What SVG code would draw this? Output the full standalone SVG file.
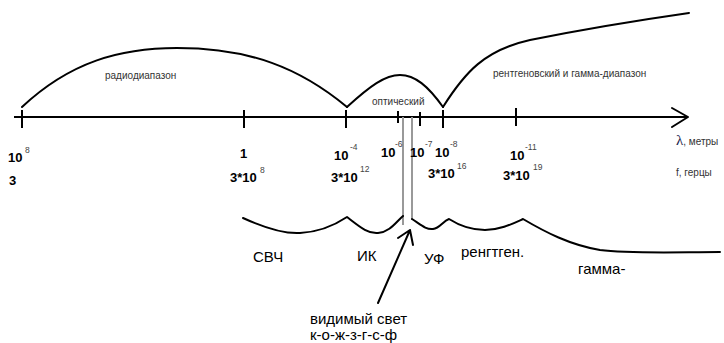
<svg xmlns="http://www.w3.org/2000/svg" width="724" height="343" viewBox="0 0 724 343">
<style>
.ln{fill:none;stroke:#000;stroke-width:2;stroke-linejoin:round;stroke-linecap:round}
.tk{stroke:#000;stroke-width:2}
.vis{stroke:#999;stroke-width:2}
.sm{font-family:"Liberation Sans",Arial,sans-serif;font-size:10px;fill:#333}
.b{font-family:"Liberation Sans",Arial,sans-serif;font-size:13px;font-weight:bold;fill:#000}
.sup{font-family:"Liberation Sans",Arial,sans-serif;font-size:8.5px;fill:#444}
.lb{font-family:"Liberation Sans",Arial,sans-serif;font-size:15px;fill:#000}
</style>
<rect width="724" height="343" fill="#fff"/>
<g id="connectors">
<path class="ln" d="M22,107 C70,62 120,48 177,48 C250,48 300,68 347,107"/>
<path class="ln" d="M347,107 C370,86 385,75 400,75 C415,75 428,86 443,107"/>
<path class="ln" d="M443,107 C465,72 485,50 530,40 C580,30 640,20 689,13"/>
<line class="tk" x1="14" y1="117" x2="688" y2="117"/>
<path class="ln" d="M672,108 L688,117 L672,127"/>
<line class="tk" x1="22" y1="110" x2="22" y2="128"/>
<line class="tk" x1="244" y1="110" x2="244" y2="128"/>
<line class="tk" x1="346" y1="110" x2="346" y2="128"/>
<line class="tk" x1="398" y1="111" x2="398" y2="123"/>
<line class="tk" x1="420" y1="112" x2="420" y2="126"/>
<line class="tk" x1="443" y1="110" x2="443" y2="128"/>
<line class="tk" x1="516" y1="108" x2="516" y2="126"/>
<line class="vis" x1="403" y1="117" x2="403" y2="225"/>
<line class="vis" x1="412" y1="117" x2="412" y2="220"/>
<path class="ln" d="M243,218 C265,228 285,234 300,233 C320,232 335,225 347,217 C360,227 368,234 378,233 C390,232 396,222 403,216"/>
<path class="ln" d="M412,219 C420,224 426,230 433,229 C440,228 443,221 449,219 C460,226 470,230 485,230 C500,230 512,224 523,219 C545,232 570,245 600,250 C630,254 680,252 720,252"/>
<path class="ln" d="M378,303 L410,230 M398,238 L410,230 L413,245" stroke-width="1.6"/>
</g>
<g id="band-labels">
<text class="sm" x="105" y="79">радиодиапазон</text>
<text class="sm" x="372" y="105">оптический</text>
<text class="sm" x="493" y="77">рентгеновский и гамма-диапазон</text>
</g>
<g id="tick-labels">
<text class="b" x="8" y="162">10</text><text class="sup" x="25" y="153">8</text>
<text class="b" x="9" y="185">3</text>
<text class="b" x="240" y="158">1</text>
<text class="b" x="230" y="182">3*10</text><text class="sup" x="260" y="173">8</text>
<text class="b" x="334" y="160">10</text><text class="sup" x="350" y="150">-4</text>
<text class="b" x="331" y="182">3*10</text><text class="sup" x="360" y="172">12</text>
<text class="b" x="381" y="157">10</text><text class="sup" x="395" y="147">-6</text>
<text class="b" x="410" y="157">10</text><text class="sup" x="425" y="147">-7</text>
<text class="b" x="435" y="157">10</text><text class="sup" x="450" y="147">-8</text>
<text class="b" x="428" y="178">3*10</text><text class="sup" x="457" y="169">16</text>
<text class="b" x="510" y="160">10</text><text class="sup" x="525" y="150">-11</text>
<text class="b" x="503" y="180">3*10</text><text class="sup" x="533" y="170">19</text>
<text x="676" y="145"><tspan font-family="Liberation Serif,serif" font-size="15" fill="#1a1a4a">λ</tspan><tspan class="sm">, метры</tspan></text>
<text class="sm" x="676" y="176">f, герцы</text>
</g>
<g id="region-labels">
<text class="lb" x="253" y="262">СВЧ</text>
<text class="lb" x="357" y="261">ИК</text>
<text class="lb" x="424" y="264">УФ</text>
<text class="lb" x="461" y="257">ренгтген.</text>
<text class="lb" x="578" y="274">гамма-</text>
<text class="lb" x="310" y="324">видимый свет</text>
<text class="lb" x="310" y="340">к-о-ж-з-г-с-ф</text>
</g>
</svg>
